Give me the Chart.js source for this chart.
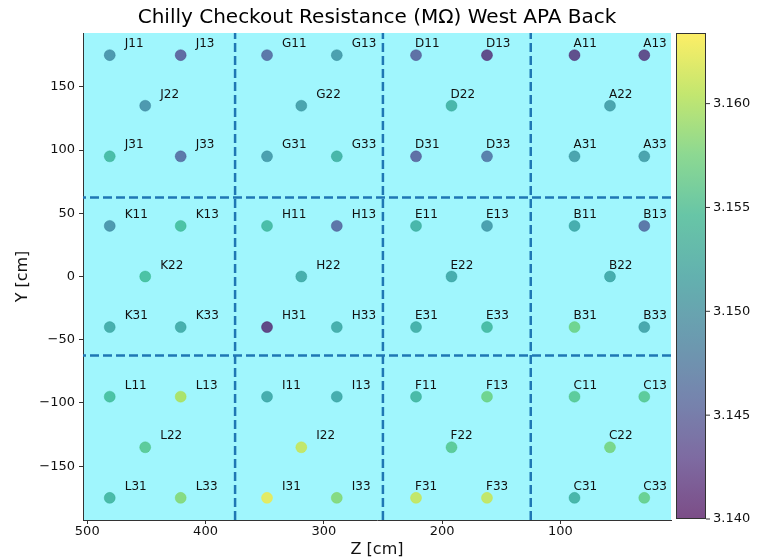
<!DOCTYPE html>
<html>
<head>
<meta charset="utf-8">
<script src="https://cdn.jsdelivr.net/npm/chart.js@4.4.1/dist/chart.umd.min.js"></script>
<style>
html, body { margin: 0; padding: 0; background: #fff; }
</style>
</head>
<body>
<canvas id="myChart" width="757" height="559"></canvas>
<script>
// channel names, positions (cm) and resistance (MOhm)
const names = [
    'J11','J13','J22','J31','J33', 'G11','G13','G22','G31','G33',
    'D11','D13','D22','D31','D33', 'A11','A13','A22','A31','A33',
    'K11','K13','K22','K31','K33', 'H11','H13','H22','H31','H33',
    'E11','E13','E22','E31','E33', 'B11','B13','B22','B31','B33',
    'L11','L13','L22','L31','L33', 'I11','I13','I22','I31','I33',
    'F11','F13','F22','F31','F33', 'C11','C13','C22','C31','C33'
]
const zPos = [
    481,421,451,481,421, 348,289,319,348,289, 222,162,192,222,162, 88,29,58,88,29,
    481,421,451,481,421, 348,289,319,348,289, 222,162,192,222,162, 88,29,58,88,29,
    481,421,451,481,421, 348,289,319,348,289, 222,162,192,222,162, 88,29,58,88,29
]
const yPos = [
    175,175,135,95,95, 175,175,135,95,95, 175,175,135,95,95, 175,175,135,95,95,
    40,40,0,-40,-40, 40,40,0,-40,-40, 40,40,0,-40,-40, 40,40,0,-40,-40,
    -95,-95,-135,-175,-175, -95,-95,-135,-175,-175, -95,-95,-135,-175,-175, -95,-95,-135,-175,-175
]
const resistance = [
    3.1490,3.1435,3.1490,3.1540,3.1450, 3.1450,3.1500,3.1505,3.1500,3.1530,
    3.1440,3.1405,3.1530,3.1440,3.1460, 3.1407,3.1407,3.1505,3.1505,3.1505,
    3.1490,3.1547,3.1547,3.1520,3.1520, 3.1540,3.1447,3.1520,3.1400,3.1520,
    3.1529,3.1500,3.1517,3.1524,3.1540, 3.1517,3.1450,3.1517,3.1575,3.1510,
    3.1547,3.1606,3.1560,3.1536,3.1587, 3.1517,3.1517,3.1618,3.1634,3.1587,
    3.1536,3.1575,3.1560,3.1618,3.1618, 3.1560,3.1560,3.1580,3.1530,3.1570
]
const zDividers = [375, 250, 125]
const yDividers = [62.5, -62.5]
const zTicks = [500, 400, 300, 200, 100]
const yTicks = [-150, -100, -50, 0, 50, 100, 150]
const cbTicks = [3.140, 3.145, 3.150, 3.155, 3.160]

const zMin = 6.4, zMax = 503.6
const yMin = -192.5, yMax = 192.5
const cMin = 3.140, cMax = 3.1634

const viridis = [
    [68,1,84],[71,44,122],[59,81,139],[44,113,142],[33,144,141],
    [39,173,129],[92,200,99],[170,220,50],[253,231,37]
]
function cmap(v, a) {
    let t = Math.min(1, Math.max(0, (v - cMin) / (cMax - cMin))) * (viridis.length - 1)
    let i = Math.min(viridis.length - 2, Math.floor(t))
    let f = t - i
    let c = viridis[i].map((x, k) => Math.round(x + (viridis[i+1][k] - x) * f))
    return 'rgba(' + c[0] + ',' + c[1] + ',' + c[2] + ',' + a + ')'
}

const font = 'DejaVu Sans'
const minus = v => String(v).replace('-', '\u2212')

let datasets = []
datasets.push({
    type: 'scatter',
    data: zPos.map((z, i) => ({x: z, y: yPos[i]})),
    pointRadius: 5.5,
    pointHoverRadius: 5.5,
    pointBackgroundColor: resistance.map(v => cmap(v, 0.7)),
    pointBorderColor: resistance.map(v => cmap(v, 0.75)),
    pointBorderWidth: 0.5
})
zDividers.forEach(z => datasets.push({
    type: 'line', data: [{x: z, y: yMin}, {x: z, y: yMax}],
    borderColor: '#1f77b4', borderWidth: 2.5, borderDash: [9, 4], pointRadius: 0, fill: false
}))
yDividers.forEach(y => datasets.push({
    type: 'line', data: [{x: zMin, y: y}, {x: zMax, y: y}],
    borderColor: '#1f77b4', borderWidth: 2.5, borderDash: [9, 4], pointRadius: 0, fill: false
}))

const background = {
    id: 'background',
    beforeDraw(chart) {
        const {ctx, chartArea: a} = chart
        ctx.save()
        ctx.fillStyle = 'rgb(160,246,253)'
        ctx.fillRect(a.left, a.top, a.right - a.left, a.bottom - a.top)
        ctx.restore()
    }
}

const pointLabels = {
    id: 'pointLabels',
    afterDatasetsDraw(chart) {
        const ctx = chart.ctx
        const meta = chart.getDatasetMeta(0)
        ctx.save()
        ctx.font = '12px ' + font
        ctx.fillStyle = '#111'
        ctx.textBaseline = 'middle'
        // labels on the left half sit further right of their point
        meta.data.forEach((p, i) => ctx.fillText(names[i], p.x + (zPos[i] > 250 ? 15 : -1), p.y - 11))
        ctx.restore()
    }
}

const extras = {
    id: 'extras',
    afterDraw(chart) {
        const {ctx, chartArea: a} = chart
        ctx.save()
        // title
        ctx.fillStyle = '#000'
        ctx.font = '20px ' + font
        ctx.textAlign = 'center'
        ctx.textBaseline = 'middle'
        ctx.fillText('Chilly Checkout Resistance (M\u03a9) West APA Back', (a.left + a.right) / 2, 18)
        // colorbar
        const x0 = 676, w = 30, top = a.top, bot = a.bottom - 1
        const g = ctx.createLinearGradient(0, bot, 0, top)
        for (let k = 0; k <= 40; k++) g.addColorStop(k / 40, cmap(cMin + (cMax - cMin) * k / 40, 0.7))
        ctx.fillStyle = g
        ctx.fillRect(x0, top, w, bot - top)
        ctx.strokeStyle = '#333'
        ctx.lineWidth = 1
        ctx.strokeRect(x0 + 0.5, top + 0.5, w - 1, bot - top - 1)
        ctx.font = '13px ' + font
        ctx.textAlign = 'left'
        ctx.fillStyle = '#111'
        cbTicks.forEach(v => {
            const y = bot - (v - cMin) / (cMax - cMin) * (bot - top)
            ctx.beginPath()
            ctx.moveTo(x0 + w, y)
            ctx.lineTo(x0 + w + 4, y)
            ctx.stroke()
            ctx.fillText(v.toFixed(3), x0 + w + 7, y)
        })
        ctx.restore()
    }
}

const myChart = new Chart(document.getElementById('myChart'), {
    type: 'scatter',
    data: {datasets: datasets},
    options: {
        responsive: false,
        animation: false,
        events: [],
        layout: {padding: {top: 33, right: 86, left: 0, bottom: 0}},
        plugins: {legend: {display: false}, tooltip: {enabled: false}},
        scales: {
            x: {
                type: 'linear', reverse: true, min: zMin, max: zMax,
                afterBuildTicks: s => { s.ticks = zTicks.map(v => ({value: v})) },
                afterFit: s => { s.height = 39 },
                grid: {drawOnChartArea: false, drawTicks: true, tickLength: 4, color: '#333'},
                border: {display: true, color: '#333', width: 1},
                ticks: {font: {family: font, size: 13}, color: '#111', padding: 0, maxRotation: 0},
                title: {display: true, text: 'Z [cm]', font: {family: font, size: 16}, color: '#111', padding: {top: 0, bottom: 0}}
            },
            y: {
                type: 'linear', min: yMin, max: yMax,
                afterBuildTicks: s => { s.ticks = yTicks.map(v => ({value: v})) },
                afterFit: s => { s.width = 83 },
                grid: {drawOnChartArea: false, drawTicks: true, tickLength: 4, color: '#333'},
                border: {display: true, color: '#333', width: 1},
                ticks: {font: {family: font, size: 13}, color: '#111', padding: 4, callback: v => minus(v)},
                title: {display: true, text: 'Y [cm]', font: {family: font, size: 16}, color: '#111', padding: {top: 13, bottom: 0}}
            }
        }
    },
    plugins: [background, pointLabels, extras]
})
</script>
</body>
</html>
